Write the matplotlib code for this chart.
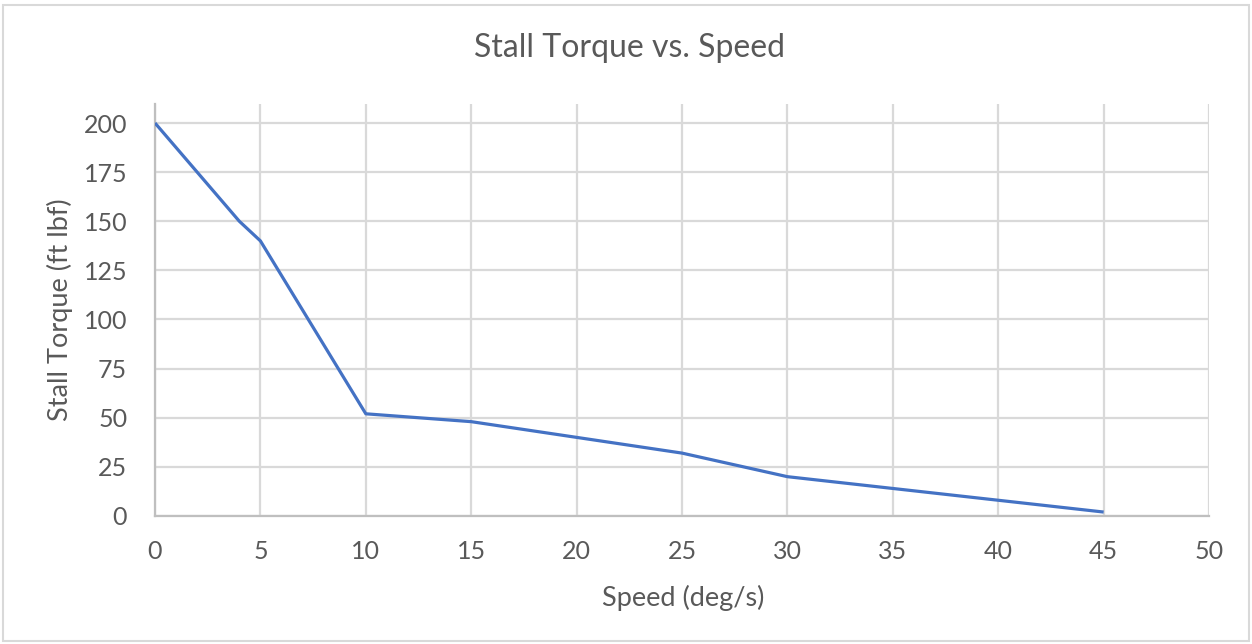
import matplotlib
matplotlib.use("Agg")
from matplotlib import pyplot as plt
from matplotlib.patches import Rectangle

speed = [0, 4, 5, 10, 15, 20, 25, 30, 35, 40, 45]
torque = [200, 150, 140, 52, 48, 40, 32, 20, 14, 8, 2]
x_ticks = [0, 5, 10, 15, 20, 25, 30, 35, 40, 45, 50]
y_ticks = [0, 25, 50, 75, 100, 125, 150, 175, 200]

text_color = "#595959"
grid_color = "#d9d9d9"
axis_color = "#bfbfbf"
line_color = "#4472c4"

plt.rcParams['font.family'] = ['Lato', 'DejaVu Sans']

fig = plt.figure(figsize=(12.52, 6.44), dpi=100)
ax = fig.add_axes([0.1238, 0.1988, 0.8419, 0.6398])

ax.plot(speed, torque, color=line_color, linewidth=2.3, solid_capstyle='butt', zorder=3)

ax.set_xlim(0, 50)
ax.set_ylim(0, 209.7)
ax.set_xticks(x_ticks)
ax.set_yticks(y_ticks)
ax.tick_params(axis='both', length=0, labelsize=18, labelcolor=text_color)
ax.tick_params(axis='y', pad=20)
ax.tick_params(axis='x', pad=17)

ax.grid(True, color=grid_color, linewidth=1.6)
ax.set_axisbelow(True)
for side in ['top', 'right']:
    ax.spines[side].set_visible(False)
for side in ['left', 'bottom']:
    ax.spines[side].set_color(axis_color)
    ax.spines[side].set_linewidth(1.6)

fig.text(630 / 1252, 1 - 48 / 644, 'Stall Torque vs. Speed', ha='center', va='center',
         fontsize=23, color=text_color)
fig.text(683 / 1252, 1 - 598 / 644, 'Speed (deg/s)', ha='center', va='center',
         fontsize=19.5, color=text_color)
fig.text(60 / 1252, 1 - 310 / 644, 'Stall Torque (ft lbf)', ha='center', va='center',
         rotation='vertical', fontsize=19.5, color=text_color)

fig.patches.append(Rectangle((3 / 1252, 3 / 644), 1246 / 1252, 636 / 644,
                             transform=fig.transFigure, fill=False,
                             edgecolor=grid_color, linewidth=1.5))

fig.savefig('out.png', dpi=100, facecolor='white')
